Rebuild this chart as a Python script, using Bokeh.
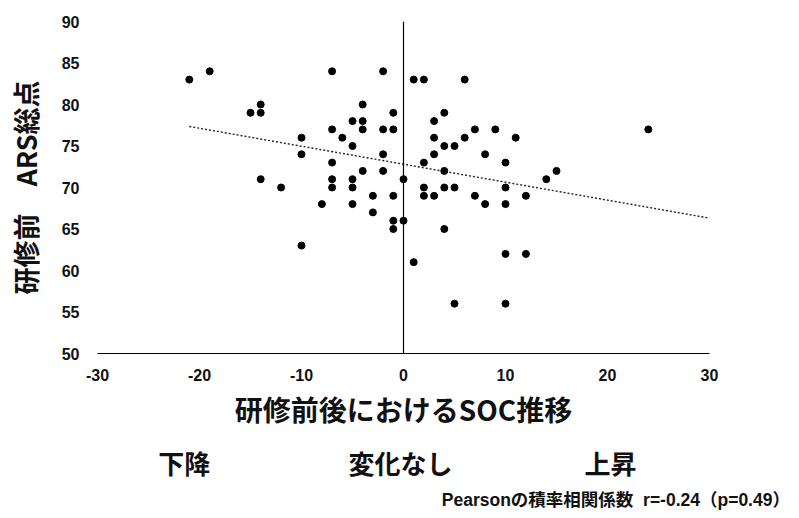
import numpy as np
from bokeh.plotting import figure
from bokeh.models import (Span, FixedTicker, ColumnDataSource, LinearAxis,
                          PrintfTickFormatter)
from bokeh.embed import file_html
from bokeh.resources import INLINE

# ---- data ----
soc_change = [-21, -19, -15, -14, -14, -14, -12, -10, -10, -10, -8,
              -7, -7, -7, -7, -7, -6, -5, -5, -5, -5, -5,
              -4, -4, -4, -4, -3, -3, -2, -2, -2, -2,
              -1, -1, -1, -1, -1, 0, 0, 1, 1,
              2, 2, 2, 2, 3, 3, 3, 3, 4, 4, 4, 4, 4,
              5, 5, 5, 6, 6, 7, 7, 8, 8, 9,
              10, 10, 10, 10, 10, 11, 12, 12, 14, 15, 24]
ars_score = [83, 84, 79, 80, 79, 71, 70, 76, 74, 63, 68,
             84, 77, 73, 71, 70, 76, 78, 75, 71, 70, 68,
             80, 78, 77, 72, 69, 67, 84, 77, 74, 72,
             79, 77, 69, 66, 65, 71, 66, 83, 61,
             83, 73, 70, 69, 78, 76, 74, 69, 79, 75, 72, 70, 65,
             75, 70, 56, 83, 76, 77, 69, 74, 68, 77,
             73, 70, 68, 62, 56, 76, 69, 62, 71, 72, 77]
x_ticks = [-30, -20, -10, 0, 10, 20, 30]
y_ticks = [50, 55, 60, 65, 70, 75, 80, 85, 90]
trend_words = ["下降", "変化なし", "上昇"]
x_title = "研修前後におけるSOC推移"
y_title = "研修前\u3000ARS総点"
note = "Pearsonの積率相関係数\u00a0\u00a0r=-0.24（p=0.49）"

LATIN = "Liberation Sans, Noto Sans CJK JP"
CJK = "Noto Sans CJK JP"
INK = "#111111"

p = figure(width=797, height=512, output_backend="svg", toolbar_location=None,
           x_range=(-30, 30), y_range=(50, 90),
           min_border_left=97, min_border_right=88,
           min_border_top=21, min_border_bottom=157)
p.outline_line_color = None
p.grid.visible = False
p.background_fill_color = "white"
p.border_fill_color = "white"

# main axes
p.xaxis.ticker = FixedTicker(ticks=x_ticks)
p.yaxis.ticker = FixedTicker(ticks=y_ticks)
for ax in (p.xaxis, p.yaxis):
    ax.formatter = PrintfTickFormatter(format="%d")
    ax.major_tick_line_color = None
    ax.minor_tick_line_color = None
    ax.major_label_text_font = LATIN
    ax.major_label_text_font_style = "bold"
    ax.major_label_text_font_size = "16px"
    ax.major_label_text_color = INK
    ax.axis_label_text_font = CJK
    ax.axis_label_text_font_style = "bold"
    ax.axis_label_text_color = INK
p.xaxis.axis_line_color = "black"
p.xaxis.axis_line_width = 1.2
p.yaxis.axis_line_color = None
p.xaxis.major_label_standoff = 9
p.yaxis.major_label_standoff = 12
p.xaxis.axis_label = x_title
p.xaxis.axis_label_text_font_size = "28px"
p.xaxis.axis_label_standoff = 5
p.yaxis.axis_label = y_title
p.yaxis.axis_label_text_font_size = "27px"
p.yaxis.axis_label_standoff = 14

# extra row of words under the axis title
word_pos = [-21.5, -0.3, 20.3]
words_axis = LinearAxis(ticker=FixedTicker(ticks=word_pos),
                        major_label_overrides=dict(zip(word_pos, trend_words)))
words_axis.axis_line_color = None
words_axis.major_tick_line_color = None
words_axis.minor_tick_line_color = None
words_axis.major_label_standoff = 6
words_axis.major_label_text_font = CJK
words_axis.major_label_text_font_style = "bold"
words_axis.major_label_text_font_size = "26px"
words_axis.major_label_text_color = INK
p.add_layout(words_axis, "below")

# note line
note_pos = [22.3]
note_axis = LinearAxis(ticker=FixedTicker(ticks=note_pos),
                       major_label_overrides={note_pos[0]: note})
note_axis.axis_line_color = None
note_axis.major_tick_line_color = None
note_axis.minor_tick_line_color = None
note_axis.major_label_standoff = 0
note_axis.major_label_text_font = LATIN
note_axis.major_label_text_font_style = "bold"
note_axis.major_label_text_font_size = "17.5px"
note_axis.major_label_text_color = INK
p.add_layout(note_axis, "below")

# vertical line at x = 0
p.add_layout(Span(location=0, dimension="height", line_color="black", line_width=1.2))

# trend line (least squares fit of the data)
slope, intercept = np.polyfit(soc_change, ars_score, 1)
tx = [min(soc_change), x_ticks[-1]]
ty = [slope * v + intercept for v in tx]
p.line(tx, ty, line_color="#222222", line_width=1.4, line_dash="2 2")

# points
src = ColumnDataSource(dict(x=soc_change, y=ars_score))
p.scatter("x", "y", source=src, size=7, fill_color="black", line_color="black")

open("out.html", "w").write(file_html(p, INLINE))
